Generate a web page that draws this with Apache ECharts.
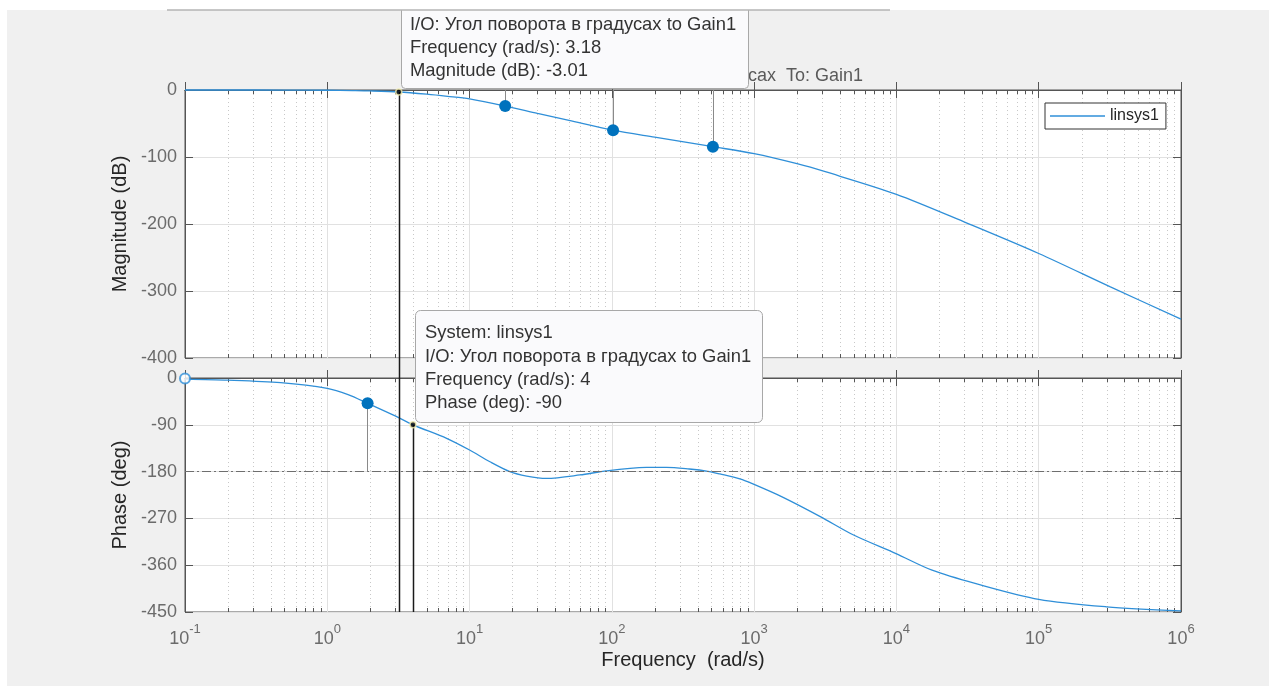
<!DOCTYPE html>
<html><head><meta charset="utf-8">
<script src="https://cdn.jsdelivr.net/npm/echarts@6/dist/echarts.min.js"></script>
<style>html,body{margin:0;padding:0;background:#fff;}#c{width:1269px;height:686px;}</style>
</head><body><div id="c"></div>
<script>
const FONT = '"Liberation Sans", Arial, Helvetica, sans-serif';

// ---- data ----
const magFreq = [0.1, 0.2, 0.5, 1, 1.5, 2, 3.18, 5, 7, 10, 17.8, 30, 50, 102, 200, 513, 1000, 2000, 3162, 10000, 31623, 100000, 316228, 1000000];
const magDb   = [0, 0, -0.1, -0.4, -0.9, -1.4, -3.01, -6.3, -9.5, -13.4, -24, -35, -45.5, -60, -70.4, -84.6, -95, -110, -122, -155.7, -199, -244, -293.5, -342];

const phaseFreq = [0.1, 0.2, 0.47, 1, 1.4, 1.92, 3, 4, 6.9, 10, 13.9, 19.2, 25.2, 34.7, 59.7, 92, 175, 242, 350, 473, 575, 794, 980, 1585, 2940, 5000, 9930, 17800, 35700, 100000, 300000, 1000000];
const phaseDeg  = [-2, -4, -9, -20, -32, -48.7, -73, -90, -116, -138.5, -161, -180, -188.5, -193, -186.5, -178.5, -172, -171.7, -175, -179.4, -184.5, -194, -203.6, -229, -267, -302, -337.7, -369.6, -395, -425.7, -440, -448];

const magMarkFreq = [17.8, 102, 513];
const magMarkDb   = [-24, -60, -84.6];
const phaseMarkFreq = [1.92];
const phaseMarkDeg  = [-48.7];
const phaseStart = [0.1, -1];
const magTip   = [3.18, -3.01];
const phaseTip = [4, -90];
const phaseRef = -180;

const magTicks   = [0, -100, -200, -300, -400];
const phaseTicks = [0, -90, -180, -270, -360, -450];
const decadeExp  = [-1, 0, 1, 2, 3, 4, 5, 6];
const minorMult  = [2, 3, 4, 5, 6, 7, 8, 9];

const seriesName = 'linsys1';
const ioName = 'Угол поворота в градусах';
const outName = 'Gain1';

// ---- build ----
const zip = (a, b) => a.map((v, i) => [v, b[i]]);
const minorPos = [];
decadeExp.slice(0, -1).forEach(e => minorMult.forEach(m => minorPos.push(m * Math.pow(10, e))));

const xMin = Math.pow(10, decadeExp[0]), xMax = Math.pow(10, decadeExp[decadeExp.length - 1]);
const magMin = Math.min(...magTicks), magMax = Math.max(...magTicks);
const phMin = Math.min(...phaseTicks), phMax = Math.max(...phaseTicks);

const AX = '#555';
const LINE = '#2f8fd8';
const MARK = '#0072bd';

function minorRender(yMin, yMax) {
  return function (params, api) {
    const x = api.value(0);
    const t = api.coord([x, yMax]);
    const b = api.coord([x, yMin]);
    const px = Math.round(t[0]) + 0.5;
    return {
      type: 'group', silent: true, children: [
        { type: 'line', shape: { x1: px, y1: t[1], x2: px, y2: b[1] }, style: { stroke: '#c8c8c8', lineWidth: 1, lineDash: [1, 3] } },
        { type: 'line', shape: { x1: px, y1: t[1], x2: px, y2: t[1] + 4 }, style: { stroke: AX, lineWidth: 1 } },
        { type: 'line', shape: { x1: px, y1: b[1], x2: px, y2: b[1] - 4 }, style: { stroke: AX, lineWidth: 1 } }
      ]
    };
  };
}

function xAxisDef(grid, pos, labels, split) {
  return {
    type: 'log', logBase: 10, gridIndex: grid, position: pos, min: xMin, max: xMax,
    axisLine: { show: true, lineStyle: { color: AX, width: 1 } },
    axisTick: { show: true, inside: true, length: 8, lineStyle: { color: AX } },
    splitLine: { show: split, lineStyle: { color: '#e1e1e1', width: 1 } },
    axisLabel: labels ? {
      show: true, margin: 11, showMinLabel: true, showMaxLabel: true,
      formatter: v => '{b|10}{s|' + Math.round(Math.log10(v)) + '}',
      rich: {
        b: { fontSize: 18, color: '#6b6b6b', fontFamily: FONT, lineHeight: 32 },
        s: { fontSize: 13, color: '#6b6b6b', fontFamily: FONT, lineHeight: 14, verticalAlign: 'top' }
      }
    } : { show: false }
  };
}
function yAxisDef(grid, pos, ticks, name, labels) {
  const mn = Math.min(...ticks), mx = Math.max(...ticks);
  return {
    type: 'value', gridIndex: grid, position: pos, min: mn, max: mx, interval: (mx - mn) / (ticks.length - 1),
    axisLine: { show: true, lineStyle: { color: AX, width: 1 } },
    axisTick: { show: true, inside: true, length: 8, lineStyle: { color: AX } },
    splitLine: { show: labels, lineStyle: { color: '#e1e1e1', width: 1 } },
    axisLabel: labels ? { show: true, margin: 8, fontSize: 18, color: '#6b6b6b', fontFamily: FONT, showMinLabel: true, showMaxLabel: true } : { show: false },
    name: labels ? name : '', nameLocation: 'middle', nameGap: 50,
    nameTextStyle: { fontSize: 20, color: '#262626', fontFamily: FONT }
  };
}

const chart = echarts.init(document.getElementById('c'), null, { renderer: 'canvas' });
const xA2 = xAxisDef(1, 'bottom', true, true);
xA2.name = 'Frequency  (rad/s)';
xA2.nameLocation = 'middle';
xA2.nameGap = 38;
xA2.nameTextStyle = { fontSize: 20, color: '#262626', fontFamily: FONT };

const option = {
  animation: false,
  backgroundColor: '#f0f0f0',
  textStyle: { fontFamily: FONT },
  grid: [
    { left: 185, top: 90, width: 996, height: 268, show: true, backgroundColor: '#fff', borderColor: AX, borderWidth: 1 },
    { left: 185, top: 378, width: 996, height: 234, show: true, backgroundColor: '#fff', borderColor: AX, borderWidth: 1 }
  ],
  xAxis: [xAxisDef(0, 'bottom', false, true), xAxisDef(0, 'top', false, false), xA2, xAxisDef(1, 'top', false, false)],
  yAxis: [yAxisDef(0, 'left', magTicks, 'Magnitude (dB)', true), yAxisDef(0, 'right', magTicks, '', false),
          yAxisDef(1, 'left', phaseTicks, 'Phase (deg)', true), yAxisDef(1, 'right', phaseTicks, '', false)],
  legend: {
    data: [{ name: seriesName, icon: 'rect' }], left: 1045, top: 103, orient: 'vertical',
    padding: [5, 7, 5, 5], itemWidth: 55, itemHeight: 1.5, backgroundColor: '#fff', borderColor: '#333', borderWidth: 1,
    borderRadius: 0, selectedMode: false, textStyle: { fontSize: 16, color: '#262626', fontFamily: FONT }
  },
  series: [
    { type: 'custom', xAxisIndex: 0, yAxisIndex: 0, data: minorPos.map(v => [v, magMin]), renderItem: minorRender(magMin, magMax), z: 1, silent: true, clip: false },
    { type: 'custom', xAxisIndex: 2, yAxisIndex: 2, data: minorPos.map(v => [v, phMin]), renderItem: minorRender(phMin, phMax), z: 1, silent: true, clip: false },
    {
      name: seriesName, type: 'line', xAxisIndex: 0, yAxisIndex: 0, data: zip(magFreq, magDb), smooth: 0.3, symbol: 'none',
      lineStyle: { color: LINE, width: 1.3 }, itemStyle: { color: LINE }, z: 4, clip: false
    },
    {
      name: seriesName, type: 'line', xAxisIndex: 2, yAxisIndex: 2, data: zip(phaseFreq, phaseDeg), smooth: 0.3, symbol: 'none',
      lineStyle: { color: LINE, width: 1.3 }, itemStyle: { color: LINE }, z: 4,
      markLine: {
        silent: true, symbol: ['none', 'none'], label: { show: false },
        lineStyle: { color: '#6e6e6e', width: 1, type: [9, 3, 2, 3] },
        data: [{ yAxis: phaseRef }]
      }
    },
    {
      type: 'scatter', xAxisIndex: 0, yAxisIndex: 0, data: zip(magMarkFreq, magMarkDb), symbolSize: 12,
      itemStyle: { color: MARK, opacity: 1 }, z: 6, silent: true,
      markLine: {
        silent: true, symbol: ['none', 'none'], label: { show: false },
        lineStyle: { color: '#8a8a8a', width: 1, type: 'solid' },
        data: magMarkFreq.map((f, i) => [{ coord: [f, magMax] }, { coord: [f, magMarkDb[i]] }])
      }
    },
    {
      type: 'scatter', xAxisIndex: 2, yAxisIndex: 2, data: zip(phaseMarkFreq, phaseMarkDeg), symbolSize: 12,
      itemStyle: { color: MARK, opacity: 1 }, z: 6, silent: true,
      markLine: {
        silent: true, symbol: ['none', 'none'], label: { show: false },
        lineStyle: { color: '#8a8a8a', width: 1, type: 'solid' },
        data: phaseMarkFreq.map((f, i) => [{ coord: [f, phaseMarkDeg[i]] }, { coord: [f, phaseRef] }])
      }
    },
    {
      type: 'scatter', xAxisIndex: 2, yAxisIndex: 2, data: [phaseStart], symbol: 'emptyCircle', symbolSize: 10,
      itemStyle: { color: LINE, borderColor: LINE, borderWidth: 1.5 }, z: 6, clip: false, silent: true
    },
    {
      type: 'scatter', xAxisIndex: 0, yAxisIndex: 0, data: [magTip], symbolSize: 6,
      itemStyle: { color: '#000', borderColor: '#f4efb0', borderWidth: 1.5 }, z: 12, clip: false, silent: true
    },
    {
      type: 'scatter', xAxisIndex: 2, yAxisIndex: 2, data: [phaseTip], symbolSize: 6,
      itemStyle: { color: '#000', borderColor: '#f4efb0', borderWidth: 1.5 }, z: 12, clip: false, silent: true
    }
  ]
};
chart.setOption(option);

// data-tip vertical lines, positioned through the axes' own scales
const a1 = chart.convertToPixel({ seriesIndex: 2 }, magTip);
const a2 = chart.convertToPixel({ seriesIndex: 3 }, [magTip[0], phMin]);
const b1 = chart.convertToPixel({ seriesIndex: 3 }, phaseTip);
const b2 = chart.convertToPixel({ seriesIndex: 3 }, [phaseTip[0], phMin]);
const ax1 = Math.round(a1[0]) + 0.5, bx1 = Math.round(b1[0]) + 0.5;

const tip1 = ['I/O: ' + ioName + ' to ' + outName, 'Frequency (rad/s): ' + magTip[0], 'Magnitude (dB): ' + magTip[1]].join('\n');
const tip2 = ['System: ' + seriesName, 'I/O: ' + ioName + ' to ' + outName, 'Frequency (rad/s): ' + phaseTip[0], 'Phase (deg): ' + phaseTip[1]].join('\n');

chart.setOption({
  graphic: [
    { type: 'line', z: 8, shape: { x1: ax1, y1: a1[1], x2: ax1, y2: a2[1] }, style: { stroke: '#1a1a1a', lineWidth: 1.5 }, silent: true },
    { type: 'line', z: 8, shape: { x1: bx1, y1: b1[1], x2: bx1, y2: b2[1] }, style: { stroke: '#1a1a1a', lineWidth: 1.5 }, silent: true },
    { type: 'text', z: 5, x: 683, y: 54, style: { text: 'Bode Diagram', font: 'bold 18px ' + FONT, fill: '#333', align: 'center', verticalAlign: 'middle' } },
    { type: 'text', z: 5, x: 863, y: 76, style: { text: 'From: ' + ioName + '  To: ' + outName, font: '18px ' + FONT, fill: '#5a5a5a', align: 'right', verticalAlign: 'middle' } },
    { type: 'rect', z: 30, shape: { x: 401.5, y: 2.5, width: 347, height: 86, r: 4 }, style: { fill: '#fafafc', stroke: '#a8a8a8', lineWidth: 1 } },
    { type: 'text', z: 31, x: 410, y: 13.5, style: { text: tip1, font: '18.4px ' + FONT, fill: '#333', lineHeight: 23, align: 'left', verticalAlign: 'top' } },
    { type: 'rect', z: 30, shape: { x: 415.5, y: 310.5, width: 347, height: 112, r: 5 }, style: { fill: '#fafafc', stroke: '#a8a8a8', lineWidth: 1 } },
    { type: 'text', z: 31, x: 425, y: 321.5, style: { text: tip2, font: '18.4px ' + FONT, fill: '#333', lineHeight: 23.4, align: 'left', verticalAlign: 'top' } },
    { type: 'rect', z: 40, shape: { x: 0, y: 0, width: 1269, height: 10 }, style: { fill: '#fff' }, silent: true },
    { type: 'rect', z: 40, shape: { x: 0, y: 0, width: 7, height: 686 }, style: { fill: '#fff' }, silent: true },
    { type: 'line', z: 41, shape: { x1: 167, y1: 10, x2: 890, y2: 10 }, style: { stroke: '#b4b4b4', lineWidth: 1.5 }, silent: true }
  ]
});
</script></body></html>
